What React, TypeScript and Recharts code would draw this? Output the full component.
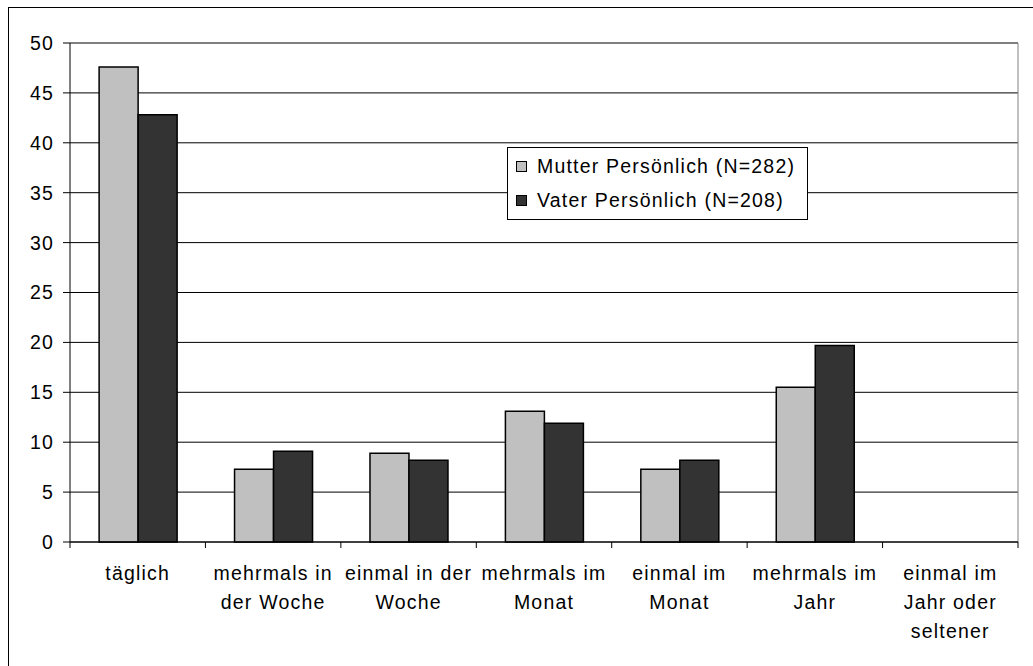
import React from "react";
import { Bar, BarChart, CartesianGrid, Legend, ReferenceLine, XAxis, YAxis } from "recharts";

const categories = [
  "täglich",
  "mehrmals in der Woche",
  "einmal in der Woche",
  "mehrmals im Monat",
  "einmal im Monat",
  "mehrmals im Jahr",
  "einmal im Jahr oder seltener",
];
const mutterValues = [47.6, 7.3, 8.9, 13.1, 7.3, 15.5, 0];
const vaterValues = [42.8, 9.1, 8.2, 11.9, 8.2, 19.7, 0];
const seriesNames = ["Mutter Persönlich (N=282)", "Vater Persönlich (N=208)"];
const yTicks = [0, 5, 10, 15, 20, 25, 30, 35, 40, 45, 50];

const data = categories.map((name, i) => ({
  name,
  mutter: mutterValues[i],
  vater: vaterValues[i],
}));

const FONT = '"Liberation Sans", Arial, sans-serif';
const FONT_SIZE = 19.5;
const SPACING = 1.2;

const CHART_W = 1030;
const CHART_H = 660;
const MARGIN = { top: 35, right: 21, bottom: 16, left: 0 };
const Y_W = 61;
const PLOT_W = CHART_W - MARGIN.left - MARGIN.right - Y_W;
const BAND = PLOT_W / categories.length;

let ctx: CanvasRenderingContext2D | null = null;
function measure(s: string) {
  if (!ctx) ctx = document.createElement("canvas").getContext("2d");
  if (!ctx) return s.length * 10;
  ctx.font = `${FONT_SIZE}px ${FONT}`;
  return ctx.measureText(s).width + s.length * SPACING;
}

// break category names into lines that fit one category band
function wrap(label: string, maxW: number) {
  const words = label.split(" ");
  const lines: string[] = [];
  let cur = "";
  for (const w of words) {
    const next = cur ? cur + " " + w : w;
    if (cur && measure(next) > maxW) {
      lines.push(cur);
      cur = w;
    } else cur = next;
  }
  if (cur) lines.push(cur);
  return lines;
}

function CategoryTick(props: any) {
  const { x, y, payload, index } = props;
  const half = BAND / 2;
  const lines = wrap(String(payload.value), BAND - 2);
  return (
    <g>
      <line x1={x - half} x2={x - half} y1={y} y2={y + 6} stroke="#000" />
      {index === categories.length - 1 && (
        <line x1={x + half} x2={x + half} y1={y} y2={y + 6} stroke="#000" />
      )}
      {lines.map((l, i) => (
        <text
          key={i}
          x={x}
          y={y + 38 + i * 29}
          textAnchor="middle"
          fill="#000"
          style={{ fontFamily: FONT, fontSize: FONT_SIZE, letterSpacing: SPACING }}
        >
          {l}
        </text>
      ))}
    </g>
  );
}

function LegendBox(props: any) {
  const items = props.payload || [];
  return (
    <div
      style={{
        border: "1px solid #000",
        background: "#fff",
        width: 291,
        padding: "1px 0 2px 8px",
        boxSizing: "content-box",
        fontFamily: FONT,
        fontSize: FONT_SIZE,
        letterSpacing: SPACING,
        color: "#000",
      }}
    >
      {items.map((it: any) => (
        <div key={it.value} style={{ height: 34, display: "flex", alignItems: "center" }}>
          <span
            style={{
              display: "inline-block",
              width: 9,
              height: 9,
              border: "1px solid #000",
              background: it.color,
              marginRight: 10,
            }}
          />
          <span style={{ whiteSpace: "nowrap" }}>{it.value}</span>
        </div>
      ))}
    </div>
  );
}

export default function App() {
  return (
    <div
      style={{
        position: "fixed",
        left: 8,
        top: 7,
        width: 1100,
        height: 700,
        border: "1px solid #000",
        background: "#fff",
      }}
    >
      <BarChart
        width={CHART_W}
        height={CHART_H}
        data={data}
        margin={MARGIN}
        barCategoryGap="21.5%"
        barGap={0}
      >
        <CartesianGrid vertical={false} stroke="#000" />
        <CartesianGrid
          horizontal={false}
          stroke="#808080"
          verticalCoordinatesGenerator={({ offset }: any) => [offset.left + offset.width]}
        />
        <XAxis
          dataKey="name"
          height={110}
          interval={0}
          tickSize={0}
          tickMargin={0}
          axisLine={{ stroke: "#000" }}
          tick={<CategoryTick />}
        />
        <YAxis
          width={Y_W}
          domain={[0, 50]}
          ticks={yTicks}
          interval={0}
          tickSize={7}
          tickMargin={9}
          axisLine={{ stroke: "#000" }}
          tickLine={{ stroke: "#000" }}
          tick={{ fill: "#000", fontFamily: FONT, fontSize: FONT_SIZE, letterSpacing: SPACING }}
        />
        <ReferenceLine y={50} stroke="#808080" />
        <Legend
          layout="vertical"
          align="center"
          verticalAlign="middle"
          content={<LegendBox />}
          wrapperStyle={{ left: 498, top: 139, width: 301, height: 73 }}
        />
        <Bar
          dataKey="mutter"
          name={seriesNames[0]}
          fill="#c0c0c0"
          stroke="#000"
          strokeWidth={1.5}
          isAnimationActive={false}
        />
        <Bar
          dataKey="vater"
          name={seriesNames[1]}
          fill="#333333"
          stroke="#000"
          strokeWidth={1.5}
          isAnimationActive={false}
        />
      </BarChart>
    </div>
  );
}
